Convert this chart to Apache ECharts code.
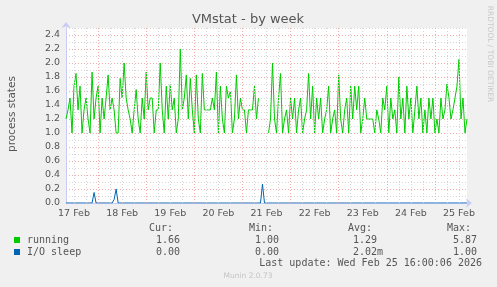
<!DOCTYPE html>
<html>
<head>
<meta charset="utf-8">
<script src="https://cdn.jsdelivr.net/npm/echarts@6/dist/echarts.min.js"></script>
<style>
html,body{margin:0;padding:0;background:#f0f0f0;}
#c{width:497px;height:287px;}
</style>
</head>
<body>
<div id="c"></div>
<script>
// ---- data ----
const startHour = 8;          // hours after 17 Feb 00:00 (window start = 17 Feb 08:00)
const stepHours = 1;
const endHour = 208;          // 25 Feb 16:00
const running = [
1.2,1.33,1.5,1.0,1.67,1.85,1.33,1.67,1.0,1.33,
1.5,1.2,1.0,1.87,1.2,1.5,1.67,1.0,1.5,1.2,
1.5,1.83,1.33,1.5,1.33,1.0,1.0,1.78,1.5,2.0,
1.5,1.33,1.2,1.0,1.33,1.62,1.2,1.0,1.5,1.2,
1.87,1.33,1.5,1.5,1.0,1.33,1.33,2.0,1.33,1.0,
1.67,1.2,1.69,1.33,1.5,1.0,1.2,2.2,1.33,1.5,
1.83,1.2,1.78,1.33,1.0,1.83,1.2,1.0,1.85,1.33,
1.33,1.33,1.33,1.5,1.33,1.87,1.0,1.67,1.2,1.0,
1.67,1.5,1.6,1.0,1.2,1.83,1.2,1.5,1.33,1.33,
1.0,1.33,1.33,1.33,1.67,1.2,1.5,null,null,null,
null,1.0,1.2,2.0,1.2,1.0,1.5,1.85,1.0,1.2,
1.33,1.0,1.5,1.2,1.5,1.0,1.33,1.5,1.0,1.2,
1.33,1.85,1.2,1.67,1.0,1.5,1.2,1.5,1.0,1.2,
1.33,1.67,1.0,1.2,1.33,1.0,1.83,1.2,1.0,1.33,
1.5,1.0,1.67,1.2,1.67,1.33,1.67,1.0,1.2,1.5,
1.2,1.2,1.2,1.2,1.0,1.33,1.2,1.0,1.5,1.33,
1.67,1.0,1.5,1.2,1.33,1.0,1.8,1.2,1.5,1.0,
1.67,1.2,1.5,1.0,1.33,1.67,1.2,1.5,1.0,1.33,
1.0,1.5,1.2,1.5,1.0,1.2,1.0,1.5,1.2,1.33,
1.7,1.5,1.2,1.33,1.5,1.67,2.05,1.2,1.5,1.0,
1.2
];
const ioSleep = [
0,0,0,0,0,0,0,0,0,0,
0,0,0,0,0.15,0,0,0,0,0,
0,0,0,0,0.05,0.2,0,0,0,0,
0,0,0,0,0,0,0,0,0,0,
0,0,0,0,0,0,0,0,0,0,
0,0,0,0,0,0,0,0,0,0,
0,0,0,0,0,0,0,0,0,0,
0,0,0,0,0,0,0,0,0,0,
0,0,0,0,0,0,0,0,0,0,
0,0,0,0,0,0,0,0,0.27,0,
0,0,0,0,0,0,0,0,0,0,
0,0,0,0,0,0,0,0,0,0,
0,0,0,0,0,0,0,0,0,0,
0,0,0,0,0,0,0,0,0,0,
0,0,0,0,0,0,0,0,0,0,
0,0,0,0,0,0,0,0,0,0,
0,0,0,0,0,0,0,0,0,0,
0,0,0,0,0,0,0,0,0,0,
0,0,0,0,0,0,0,0,0,0,
0,0,0,0,0,0,0,0,0,0,
0
];
const dayLabels = ['17 Feb','18 Feb','19 Feb','20 Feb','21 Feb','22 Feb','23 Feb','24 Feb','25 Feb'];
const dayLabelHours = [12,36,60,84,108,132,156,180,204];
const seriesNames = ['running','I/O sleep'];
const seriesColors = ['#00cc00','#0066b3'];
const statHeaders = ['Cur:','Min:','Avg:','Max:'];
const statsRunning = ['1.66','1.00','1.29','5.87'];
const statsIO = ['0.00','0.00','2.02m','1.00'];
const titleText = 'VMstat - by week';
const yName = 'process states';
const lastUpdate = 'Last update: Wed Feb 25 16:00:06 2026';
const footer = 'Munin 2.0.73';
const sideText = 'RRDTOOL / TOBI OETIKER';

// ---- build ----
const toPts = arr => arr.map((v,i)=>[startHour + i*stepHours, v]);
const minorV = [], majorV = [];
for (let h = 12; h < endHour; h += 6) { (h % 24 === 0 ? majorV : minorV).push(h); }
const gridColMinor = '#d6d6d6', gridColMajor = '#f2aaaa';

const chart = echarts.init(document.getElementById('c'), null, {renderer:'canvas'});
const mono = '"DejaVu Sans Mono", monospace';
const sans = '"DejaVu Sans", sans-serif';
const txtCol = '#555';

const colX = [149, 249, 348, 447];
const valX = [156, 255, 353, 453];
const graphics = [
  {type:'text', x:248, y:19.5, style:{text:titleText, font:'13px '+sans, fill:'#555', align:'center', verticalAlign:'middle'}},
  {type:'text', x:12, y:114, rotation:Math.PI/2, style:{text:yName, font:'10.5px '+sans, fill:txtCol, align:'center', verticalAlign:'middle'}},
  {type:'text', x:490, y:54, rotation:-Math.PI/2, style:{text:sideText, font:'7.5px '+sans, fill:'#c8c8c8', align:'center', verticalAlign:'middle'}},
  {type:'text', x:482, y:263.5, style:{text:lastUpdate, font:'10px '+mono, fill:txtCol, align:'right', verticalAlign:'middle'}},
  {type:'text', x:248, y:276.5, style:{text:footer, font:'7.5px '+sans, fill:'#c4c4c4', align:'center', verticalAlign:'middle'}}
];
statHeaders.forEach((t,k)=>graphics.push({type:'text', x:colX[k], y:228, style:{text:t, font:'10px '+mono, fill:txtCol, align:'left', verticalAlign:'middle'}}));
[statsRunning, statsIO].forEach((row,r)=>{
  const y = 240 + r*12;
  graphics.push({type:'rect', shape:{x:14, y:y-3, width:6, height:6}, style:{fill:seriesColors[r]}});
  graphics.push({type:'text', x:27, y:y, style:{text:seriesNames[r], font:'10px '+mono, fill:txtCol, align:'left', verticalAlign:'middle'}});
  row.forEach((t,k)=>graphics.push({type:'text', x:valX[k], y:y, style:{text:t, font:'10px '+mono, fill:txtCol, align:'left', verticalAlign:'middle'}}));
});

const vLines = minorV.map(h=>({xAxis:h, lineStyle:{color:gridColMinor}}))
  .concat(majorV.map(h=>({xAxis:h, lineStyle:{color:gridColMajor}})));

chart.setOption({
  animation:false,
  backgroundColor:'#f0f0f0',
  grid:{left:66, right:30, top:28, bottom:84, show:true, backgroundColor:'#ffffff', borderWidth:0},
  xAxis:{
    type:'value', min:startHour, max:endHour,
    splitLine:{show:false},
    axisTick:{show:false},
    axisLine:{show:true, lineStyle:{color:'#c8ccf4', width:1}, symbol:['none','arrow'], symbolSize:[7,6], symbolOffset:[0,5]},
    axisLabel:{customValues:dayLabelHours, formatter:v=>dayLabels[Math.round((v-12)/24)] || '', color:txtCol, fontFamily:sans, fontSize:9.5, margin:6}
  },
  yAxis:{
    type:'value', min:0, max:2.5, interval:0.1,
    axisTick:{show:false},
    axisLine:{show:true, lineStyle:{color:'#c8ccf4', width:1}, symbol:['none','arrow'], symbolSize:[7,6], symbolOffset:[0,6]},
    splitLine:{show:true, lineStyle:{color:[gridColMajor, gridColMinor], type:[1,2], width:1}},
    axisLabel:{formatter:v=>{const t=Math.round(v*10); return (t%2===0 && t<=24)?(t/10).toFixed(1):'';}, color:txtCol, fontFamily:sans, fontSize:9.5, margin:6}
  },
  graphic:graphics,
  series:[
    {type:'line', data:[], z:1, silent:true,
     markLine:{silent:true, symbol:['none','none'], label:{show:false}, animation:false,
       lineStyle:{type:[1,2], width:1}, data:vLines}},
    {name:seriesNames[0], type:'line', data:toPts(running), showSymbol:false, connectNulls:false, z:3,
     lineStyle:{color:seriesColors[0], width:1}, itemStyle:{color:seriesColors[0]}},
    {name:seriesNames[1], type:'line', data:toPts(ioSleep), showSymbol:false, z:4,
     lineStyle:{color:seriesColors[1], width:1}, itemStyle:{color:seriesColors[1]}}
  ]
});
</script>
</body>
</html>
